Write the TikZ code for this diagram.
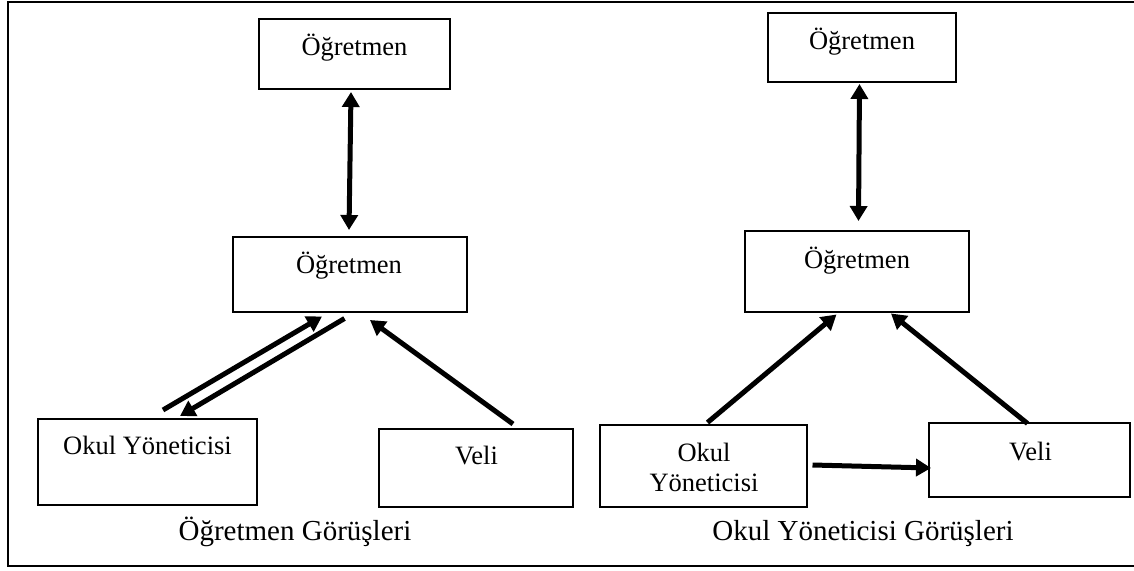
\documentclass[tikz,border=0pt]{standalone}
\usepackage{fontspec}
\setmainfont{Liberation Serif}
\usetikzlibrary{arrows.meta,calc}
\begin{document}
\begin{tikzpicture}[x=1pt,y=-1pt,
  box/.style={draw,line width=2pt,rectangle,inner sep=0pt},
  lbl/.style={anchor=base,inner sep=0pt,font=\fontsize{26.5}{30}\selectfont},
  captext/.style={anchor=base,inner sep=0pt,font=\fontsize{29}{33}\selectfont},
  link/.style={line width=5pt,-{Triangle[length=15pt,width=17pt]}},
  dbllink/.style={line width=5pt,{Triangle[length=15pt,width=17pt]}-{Triangle[length=15pt,width=17pt]}},
  outerframe/.style={draw,line width=2pt}]
\useasboundingbox (0,0) rectangle (1134,570);
\draw[outerframe] (8,2) rectangle (1137,566);

% left panel: boxes
\node[box,minimum width=191pt,minimum height=70pt] (t1) at (354.5,54) {};
\node[box,minimum width=234pt,minimum height=75pt] (m1) at (350,274.5) {};
\node[box,minimum width=219pt,minimum height=86pt] (o1) at (147.5,462) {};
\node[box,minimum width=194pt,minimum height=78pt] (v1) at (476,468) {};
\node[lbl] (t1l) at (354.5,55) {Öğretmen};
\node[lbl] (m1l) at (349,273.5) {Öğretmen};
\node[lbl] (o1l) at (147.5,454.5) {Okul Yöneticisi};
\node[lbl] (v1l) at (476.5,464.5) {Veli};
\node[captext] (c1) at (295,540) {Öğretmen Görüşleri};

% left panel: connectors
\draw[dbllink] ($(t1.south)+(-3.5,2)$) -- ($(m1.north)+(-1,-6)$);
\draw[link] ($(o1.north)+(15.5,-8)$) -- ($(m1.south)+(-28,3.5)$);
\draw[link] ($(m1.south)+(-5.5,5.5)$) -- ($(o1.north)+(32.5,-2)$);
\draw[link] ($(v1.north)+(37,-4)$) -- ($(m1.south)+(20,7)$);

% right panel: boxes
\node[box,minimum width=188pt,minimum height=69pt] (t2) at (862,47.5) {};
\node[box,minimum width=224pt,minimum height=81pt] (m2) at (857,271.5) {};
\node[box,minimum width=207pt,minimum height=82pt] (o2) at (703.5,466) {};
\node[box,minimum width=201pt,minimum height=74pt] (v2) at (1029.5,460) {};
\node[lbl] (t2l) at (862,49) {Öğretmen};
\node[lbl] (m2l) at (857,268) {Öğretmen};
\node[lbl] (o2a) at (704,461) {Okul};
\node[lbl] (o2b) at (704,491) {Yöneticisi};
\node[lbl] (v2l) at (1030.5,460) {Veli};
\node[captext] (c2) at (863,540) {Okul Yöneticisi Görüşleri};

% right panel: connectors
\draw[dbllink] ($(t2.south)+(-2.5,1)$) -- ($(m2.north)+(1.5,-9)$);
\draw[link] ($(o2.north)+(4,-1.5)$) -- ($(m2.south)+(-20.5,1.5)$);
\draw[link] ($(v2.north)+(-2,1.5)$) -- ($(m2.south)+(34,0.5)$);
\draw[link] ($(o2.east)+(4.5,-1)$) -- ($(v2.west)+(3,8)$);
\end{tikzpicture}
\end{document}
